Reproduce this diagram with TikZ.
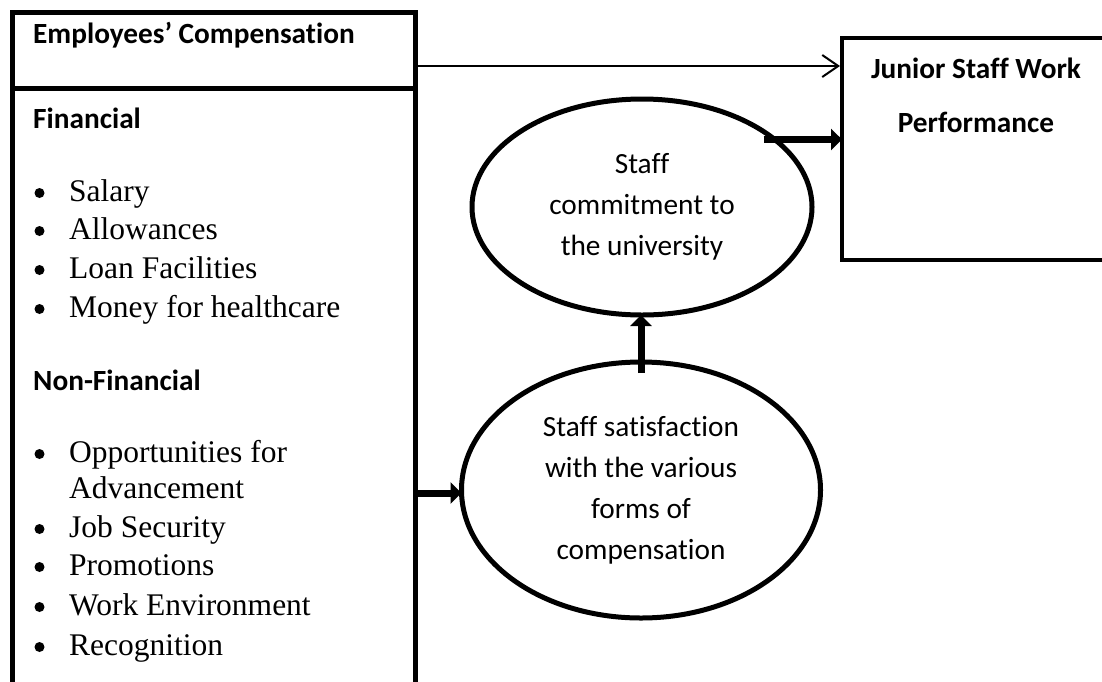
\documentclass[tikz,border=0pt]{standalone}
\usepackage{fontspec}
\setmainfont{Liberation Serif}
\newfontfamily\calibrifont[Ligatures=CommonOff]{Carlito}
\usetikzlibrary{shapes.geometric,arrows.meta}

\begin{document}
\begin{tikzpicture}[x=1pt,y=-1pt,
  framebox/.style={draw, rectangle, line width=5pt, inner sep=0pt, outer sep=0pt},
  ovalbox/.style={draw, ellipse, line width=5pt, inner sep=0pt, outer sep=0pt,
    align=center, font=\calibrifont\fontsize{29.3}{41}\selectfont},
  headtext/.style={font=\calibrifont\bfseries\fontsize{29.3}{30}\selectfont,
    anchor=base west, inner sep=0pt},
  itemtext/.style={font=\fontsize{31.5}{38}\selectfont, anchor=base west, inner sep=0pt},
  bulletdot/.style={circle, fill, inner sep=0pt, minimum size=10pt},
  bigarrow/.style={line width=7pt, -{Triangle[length=11pt,width=21pt]}},
  thinarrow/.style={line width=2pt, -{Straight Barb[length=16pt,width=22pt]}}
]
\useasboundingbox (0,0) rectangle (1102,681);
\clip (0,0) rectangle (1102,681);

% left column: heading box and the open-ended list box below it
\node[framebox, minimum width=403pt, minimum height=76pt, anchor=north west] (head) at (12,12) {};
\node[framebox, minimum width=403pt, minimum height=640pt, anchor=north west] (body) at (12,88) {};

\node[headtext] (headlbl) at (33,43) {Employees’ Compensation};
\node[headtext] (finlbl) at (33,128) {Financial};
\node[headtext] (nonfinlbl) at (33,390) {Non-Financial};

% financial items
\foreach \t/\y [count=\i] in {Salary/201, Allowances/239, Loan Facilities/278, Money for healthcare/317} {
  \node[bulletdot] (fb\i) at (39.5,\y-8) {};
  \node[itemtext] (fi\i) at (69,\y) {\t};
}

% non-financial items
\foreach \t/\y [count=\i] in {Opportunities for/462, Job Security/537, Promotions/575, Work Environment/615, Recognition/655} {
  \node[bulletdot] (nb\i) at (39.5,\y-8) {};
  \node[itemtext] (ni\i) at (69,\y) {\t};
}
\node[itemtext] (ni1b) at (69,498) {Advancement};

% outcome box on the right
\node[draw, rectangle, line width=4pt, inner sep=0pt, outer sep=0pt,
  minimum width=300pt, minimum height=222pt, anchor=north west] (perf) at (842,38) {};
\node[headtext, anchor=base] (perfa) at (976,78) {Junior Staff Work};
\node[headtext, anchor=base] (perfb) at (976,132) {Performance};

% mediating variables
\node[ovalbox, minimum width=340pt, minimum height=216pt] (commit) at (642,207)
  {Staff\\commitment to\\the university};
\node[ovalbox, minimum width=359pt, minimum height=256pt] (sat) at (641,490)
  {Staff satisfaction\\with the various\\forms of\\compensation};

% connectors
\draw[thinarrow, shorten >=2pt] ([yshift=-16pt]head.east) -- ([yshift=-16pt]head.east -| perf.west);
\draw[bigarrow] ([xshift=-11pt]commit.27) -- (commit.27 -| perf.west);
\draw[bigarrow] ([yshift=-11pt]sat.north) -- (sat.north |- commit.south);
\draw[bigarrow] ([yshift=-3pt]body.east |- sat.west) -- ([yshift=-3pt]sat.west);
\end{tikzpicture}
\end{document}
